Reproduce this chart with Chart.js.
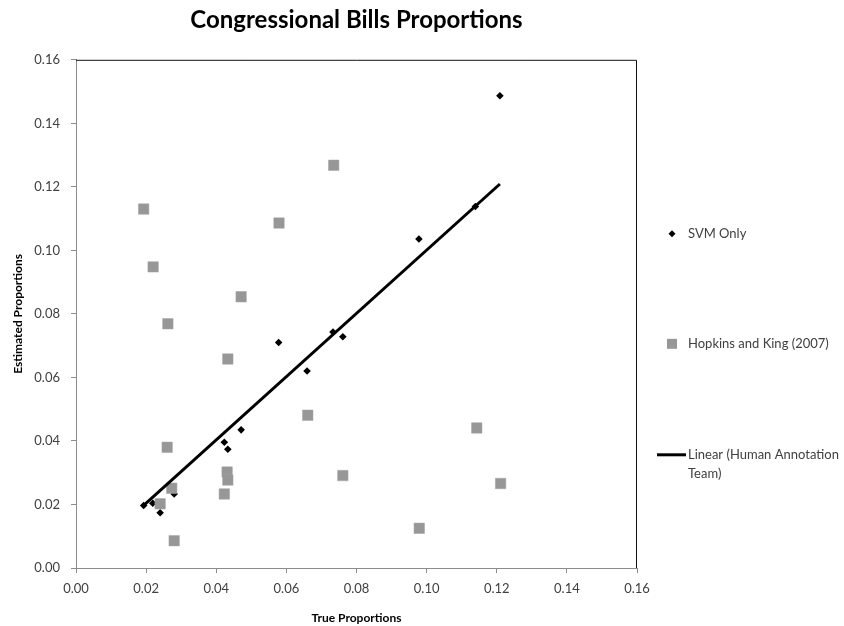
<!DOCTYPE html>
<html>
<head>
<meta charset="utf-8">
<script src="https://cdn.jsdelivr.net/npm/chart.js@4/dist/chart.umd.min.js"></script>
<style>
  html, body { margin: 0; padding: 0; background: #fff; }
  #wrap { width: 844px; height: 626px; }
</style>
</head>
<body>
<div id="wrap"><canvas id="billsChart" width="844" height="626"></canvas></div>
<script>
// True vs. estimated proportions
const svmTrue = [0.0193, 0.0219, 0.024, 0.028, 0.0423, 0.0433, 0.0471, 0.0578, 0.0659, 0.0733, 0.0761, 0.0978, 0.1139, 0.1209];
const svmEst  = [0.0197, 0.0204, 0.0174, 0.0233, 0.0396, 0.0374, 0.0435, 0.0710, 0.0620, 0.0743, 0.0728, 0.1036, 0.1138, 0.1487];

const hkTrue = [0.0193, 0.022, 0.024, 0.026, 0.0262, 0.0273, 0.028, 0.0423, 0.0431, 0.0433, 0.0433, 0.0471, 0.0579, 0.0661, 0.0735, 0.0761, 0.0979, 0.1143, 0.1211];
const hkEst  = [0.1130, 0.0948, 0.0202, 0.0380, 0.0769, 0.0251, 0.0086, 0.0233, 0.0302, 0.0277, 0.0658, 0.0854, 0.1086, 0.0481, 0.1268, 0.0291, 0.0125, 0.0441, 0.0266];

// linear trend of the human annotation team (end points)
const trendTrue = [0.0193, 0.1209];
const trendEst  = [0.0197, 0.1209];

const axisTicks = [0, 0.02, 0.04, 0.06, 0.08, 0.10, 0.12, 0.14, 0.16];

const legendLabels = ["SVM Only", "Hopkins and King (2007)", ["Linear (Human Annotation", "Team)"]];

function toPoints(xs, ys) {
    return xs.map((x, i) => ({ x: x, y: ys[i] }));
}

const FONT = "Lato, 'Open Sans', sans-serif";
const TEXT = "#404040";
const AXIS = "#8c8c8c";

// frame top/right edges in black, like the original plot area border
const framePlugin = {
    id: "frame",
    beforeDatasetsDraw(chart) {
        const { ctx, chartArea: a } = chart;
        ctx.save();
        ctx.strokeStyle = "#111";
        ctx.lineWidth = 1;
        ctx.beginPath();
        ctx.moveTo(a.left, a.top + 0.5);
        ctx.lineTo(a.right - 0.5, a.top + 0.5);
        ctx.lineTo(a.right - 0.5, a.bottom);
        ctx.stroke();
        ctx.restore();
    }
};

// spread-out legend to the right of the plot
const sideLegend = {
    id: "sideLegend",
    afterDraw(chart) {
        const { ctx, chartArea: a } = chart;
        const ds = chart.data.datasets;
        const mx = a.right + 35, tx = a.right + 51;
        const rows = [a.top + 174, a.top + 284, a.top + 395];
        ctx.save();
        ctx.font = "13px " + FONT;
        ctx.textBaseline = "middle";

        // diamond
        ctx.fillStyle = ds[0].backgroundColor;
        ctx.beginPath();
        ctx.moveTo(mx, rows[0] - 3.5);
        ctx.lineTo(mx + 3.5, rows[0]);
        ctx.lineTo(mx, rows[0] + 3.5);
        ctx.lineTo(mx - 3.5, rows[0]);
        ctx.closePath();
        ctx.fill();

        // square
        ctx.fillStyle = ds[1].backgroundColor;
        ctx.fillRect(mx - 5, rows[1] - 5, 10, 10);

        // line
        ctx.strokeStyle = ds[2].borderColor;
        ctx.lineWidth = 3;
        ctx.beginPath();
        ctx.moveTo(a.right + 20, rows[2]);
        ctx.lineTo(a.right + 49, rows[2]);
        ctx.stroke();

        ctx.fillStyle = TEXT;
        ctx.fillText(legendLabels[0], tx, rows[0]);
        ctx.fillText(legendLabels[1], tx, rows[1]);
        ctx.fillText(legendLabels[2][0], tx, rows[2]);
        ctx.fillText(legendLabels[2][1], tx, rows[2] + 19);
        ctx.restore();
    }
};

const tickFmt = v => Number(v).toFixed(2);

new Chart(document.getElementById("billsChart").getContext("2d"), {
    type: "scatter",
    data: {
        datasets: [
            {
                label: legendLabels[0],
                data: toPoints(svmTrue, svmEst),
                pointStyle: "rectRot",
                pointRadius: 3.8,
                backgroundColor: "#000000",
                borderColor: "#000000",
                borderWidth: 0,
                order: 2
            },
            {
                label: legendLabels[1],
                data: toPoints(hkTrue, hkEst),
                pointStyle: "rect",
                pointRadius: 7.4,
                backgroundColor: "#979797",
                borderColor: "#a5a5a5",
                borderWidth: 0.5,
                order: 1
            },
            {
                label: legendLabels[2].join(" "),
                data: toPoints(trendTrue, trendEst),
                showLine: true,
                pointRadius: 0,
                borderColor: "#000000",
                borderWidth: 3,
                order: 0
            }
        ]
    },
    options: {
        responsive: false,
        animation: false,
        layout: { padding: { top: 0, right: 207, left: 0, bottom: 0 } },
        plugins: {
            legend: { display: false },
            tooltip: { enabled: false },
            title: {
                display: true,
                fullSize: false,
                text: "Congressional Bills Proportions",
                color: "#000",
                font: { family: FONT, size: 24, weight: "bold" },
                padding: { top: 6, bottom: 25 }
            }
        },
        scales: {
            x: {
                type: "linear",
                min: 0, max: 0.16,
                afterFit: s => { s.height = 58; },
                afterBuildTicks: s => { s.ticks = axisTicks.map(v => ({ value: v })); },
                ticks: { callback: tickFmt, color: TEXT, font: { family: FONT, size: 13 }, padding: 8, maxRotation: 0 },
                grid: { display: true, drawOnChartArea: false, tickLength: 5, color: AXIS },
                border: { color: AXIS },
                title: { display: true, text: "True Proportions", color: "#000", font: { family: FONT, size: 12, weight: "bold" }, padding: { top: 0, bottom: 1 } }
            },
            y: {
                type: "linear",
                min: 0, max: 0.16,
                afterFit: s => { s.width = 76; },
                afterBuildTicks: s => { s.ticks = axisTicks.map(v => ({ value: v })); },
                ticks: { callback: tickFmt, color: TEXT, font: { family: FONT, size: 13 }, padding: 11 },
                grid: { display: true, drawOnChartArea: false, tickLength: 5, color: AXIS },
                border: { color: AXIS },
                title: { display: true, text: "Estimated Proportions", color: "#000", font: { family: FONT, size: 12, weight: "bold" }, padding: { top: 11, bottom: 0 } }
            }
        }
    },
    plugins: [framePlugin, sideLegend]
});
</script>
</body>
</html>
